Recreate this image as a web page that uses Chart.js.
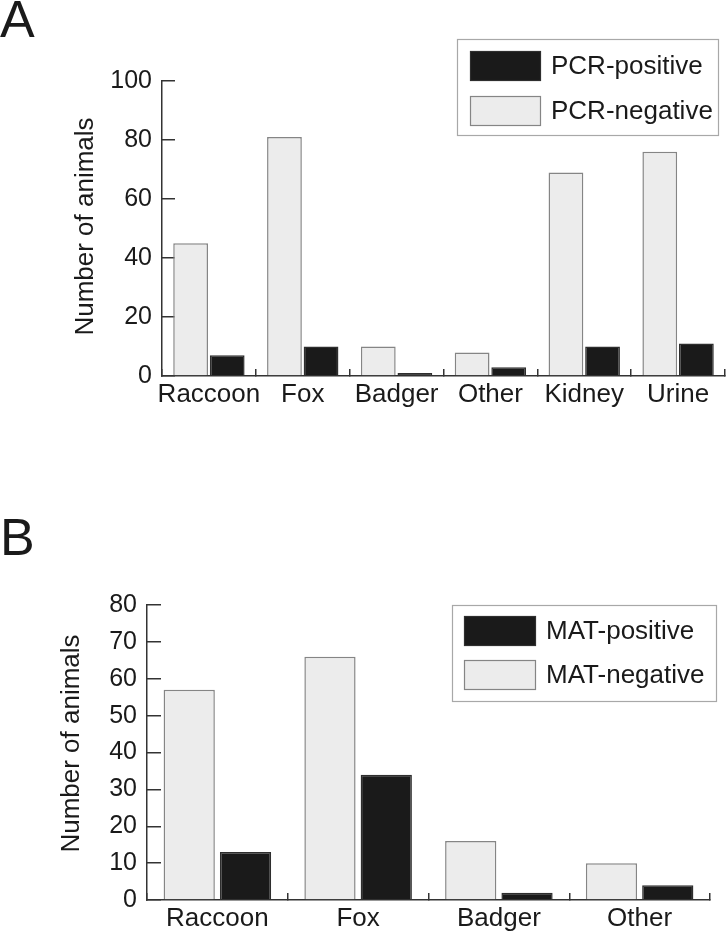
<!DOCTYPE html>
<html><head><meta charset="utf-8">
<script src="https://cdn.jsdelivr.net/npm/chart.js@4"></script>
<style>
html,body{margin:0;padding:0;background:#fff;overflow:hidden;}
#wrap{position:relative;width:726px;height:931px;overflow:hidden;font-family:"Liberation Sans",Arial,sans-serif;}
canvas{position:absolute;left:0;top:0;}
.panel{position:absolute;left:0;font-size:52px;line-height:52px;color:#1a1a1a;}
</style></head><body>
<div id="wrap">
<canvas id="cB" width="726" height="1000"></canvas>
<canvas id="cA" width="726" height="931"></canvas>
<div class="panel" style="top:-7px">A</div>
<div class="panel" style="top:511px">B</div>
</div>
<script>
// ---- Data ----
const categoriesA = ['Raccoon', 'Fox', 'Badger', 'Other', 'Kidney', 'Urine'];
const pcrPositive = [7, 10, 1, 3, 10, 11];
const pcrNegative = [45, 81, 10, 8, 69, 76];
const yTicksA = [0, 20, 40, 60, 80, 100];

const categoriesB = ['Raccoon', 'Fox', 'Badger', 'Other'];
const matPositive = [13, 34, 2, 4];
const matNegative = [57, 66, 16, 10];
const yTicksB = [0, 10, 20, 30, 40, 50, 60, 70, 80];

const yTitle = 'Number of animals';

// ---- Styling ----
const FAMILY = '"Liberation Sans", Arial, sans-serif';
const TXT = '#1a1a1a';
const AX = '#333333';
Chart.defaults.font.family = FAMILY;
Chart.defaults.color = TXT;

const boxLegend = {
  id: 'boxLegend',
  afterDraw(chart, args, o) {
    const ctx = chart.ctx;
    ctx.save();
    ctx.strokeStyle = '#a8a8a8';
    ctx.lineWidth = 1.2;
    ctx.strokeRect(o.x + 0.5, o.y + 0.5, o.w, o.h);
    const ds = chart.data.datasets.slice().reverse();
    ds.forEach((d, i) => {
      const y = o.swY + i * o.gap;
      ctx.fillStyle = d.backgroundColor;
      ctx.fillRect(o.swX, y, o.swW, o.swH);
      ctx.strokeStyle = d.borderColor;
      ctx.lineWidth = 1.2;
      ctx.strokeRect(o.swX + 0.5, y + 0.5, o.swW - 1, o.swH - 1);
      ctx.fillStyle = TXT;
      ctx.font = '26px ' + FAMILY;
      ctx.textBaseline = 'middle';
      ctx.textAlign = 'left';
      ctx.fillText(d.label, o.textX, y + o.swH / 2 + 1);
    });
    ctx.restore();
  }
};

const axisTitle = {
  id: 'axisTitle',
  afterDraw(chart, args, o) {
    const s = chart.scales.y;
    const ctx = chart.ctx;
    ctx.save();
    ctx.translate(o.x, (s.top + s.bottom) / 2 + o.dy);
    ctx.rotate(-Math.PI / 2);
    ctx.fillStyle = TXT;
    ctx.font = '26px ' + FAMILY;
    ctx.textAlign = 'center';
    ctx.textBaseline = 'middle';
    ctx.fillText(o.text, 0, 0);
    ctx.restore();
  }
};

function makeChart(id, cats, neg, pos, negLabel, posLabel, yTicks, cfg) {
  return new Chart(document.getElementById(id), {
    type: 'bar',
    data: {
      labels: cats,
      datasets: [
        { label: negLabel, data: neg, backgroundColor: '#ececec', borderColor: '#858585', borderWidth: 1.5,
          categoryPercentage: cfg.catPct, barPercentage: cfg.barPct },
        { label: posLabel, data: pos, backgroundColor: '#1a1a1a', borderColor: '#2e2e2e', borderWidth: 1.5,
          categoryPercentage: cfg.catPct, barPercentage: cfg.barPct }
      ]
    },
    options: {
      responsive: false,
      animation: false,
      layout: { padding: cfg.pad },
      plugins: {
        legend: { display: false }, tooltip: { enabled: false },
        boxLegend: cfg.legend,
        axisTitle: { text: yTitle, x: cfg.titleX, dy: cfg.titleDy }
      },
      scales: {
        x: {
          border: { display: true, color: AX, width: 1.5 },
          grid: { display: true, offset: true, drawOnChartArea: false, drawTicks: true, tickLength: -7, tickColor: AX, lineWidth: 1.5 },
          ticks: { padding: 10, color: TXT, font: { size: 26 }, maxRotation: 0, autoSkip: false },
          afterFit: s => { s.height = cfg.xH; }
        },
        y: {
          min: yTicks[0], max: yTicks[yTicks.length - 1],
          afterBuildTicks: s => { s.ticks = yTicks.map(v => ({ value: v })); },
          border: { display: true, color: AX, width: 1.5 },
          grid: { display: true, drawOnChartArea: false, drawTicks: true, tickLength: -cfg.tl, tickColor: AX, lineWidth: 1.5 },
          ticks: { padding: cfg.tl + 10, color: TXT, font: { size: 25 } },
          title: { display: false },
          afterFit: s => { s.width = cfg.yW; }
        }
      }
    },
    plugins: [boxLegend, axisTitle]
  });
}

makeChart('cA', categoriesA, pcrNegative, pcrPositive, 'PCR-negative', 'PCR-positive', yTicksA, {
  catPct: 0.78, barPct: 0.95,
  pad: { left: 0, right: 1, top: 81, bottom: 931 - 376 - 50 },
  xH: 50, yW: 162, tl: 13, titleX: 86, titleDy: -2,
  legend: { x: 457, y: 39, w: 261, h: 96, swX: 470, swY: 51, swW: 71, swH: 30, gap: 45, textX: 551 }
});

makeChart('cB', categoriesB, matNegative, matPositive, 'MAT-negative', 'MAT-positive', yTicksB, {
  catPct: 0.80, barPct: 0.91,
  pad: { left: 0, right: 16, top: 605, bottom: 1000 - 900 - 40 },
  xH: 40, yW: 147, tl: 14, titleX: 72, titleDy: -9,
  legend: { x: 452, y: 605, w: 264, h: 96, swX: 464, swY: 616, swW: 72, swH: 30, gap: 44, textX: 546 }
});
</script>
</body></html>
